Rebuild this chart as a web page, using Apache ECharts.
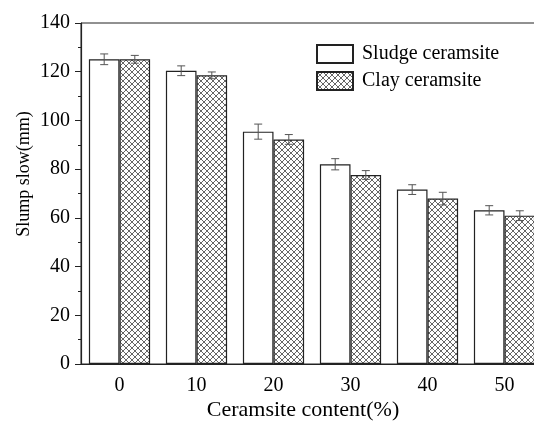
<!DOCTYPE html>
<html>
<head>
<meta charset="utf-8">
<script src="https://cdn.jsdelivr.net/npm/echarts@6/dist/echarts.min.js"></script>
<style>
  html, body { margin: 0; padding: 0; background: #fff; }
  #chart { width: 534px; height: 421px; }
</style>
</head>
<body>
<div id="chart"></div>
<script>
// Ceramsite content (%) on the x axis
const categories = ['0', '10', '20', '30', '40', '50'];
// Slump flow (mm) for each ceramsite type
const sludgeValues = [125.1, 120.4, 95.4, 82.0, 71.6, 63.1];
const clayValues = [125.1, 118.5, 92.2, 77.6, 67.9, 60.9];
// Error bar half-lengths (mm)
const sludgeErrors = [2.2, 2.0, 3.1, 2.3, 2.0, 1.9];
const clayErrors = [1.6, 1.4, 2.0, 1.8, 2.6, 2.0];
const seriesNames = ['Sludge ceramsite', 'Clay ceramsite'];

const FONT = "'Liberation Serif', 'DejaVu Serif', serif";
const BAR_W = 30.6;

// Cross-hatch tile used as the fill for clay ceramsite bars
function hatchTile(size, color) {
  const c = document.createElement('canvas');
  c.width = size; c.height = size;
  const g = c.getContext('2d');
  g.fillStyle = '#fff';
  g.fillRect(0, 0, size, size);
  g.strokeStyle = color;
  g.lineWidth = 0.9;
  g.beginPath();
  for (const k of [-size, 0, size]) {
    g.moveTo(k, 0); g.lineTo(k + size, size);
    g.moveTo(k, size); g.lineTo(k + size, 0);
  }
  g.stroke();
  return c;
}
const hatch = { image: hatchTile(6, '#555'), repeat: 'repeat' };

function errorSeries(values, errors, side) {
  return {
    type: 'custom',
    z: 5,
    silent: true,
    data: values.map((v, i) => [i, v, errors[i]]),
    encode: { x: 0, y: 1 },
    renderItem: function (params, api) {
      const i = api.value(0);
      const v = api.value(1);
      const e = api.value(2);
      const hi = api.coord([i, v + e]);
      const lo = api.coord([i, v - e]);
      const x = hi[0] + side * BAR_W / 2;
      const cap = 4;
      const style = { stroke: '#555', lineWidth: 1, fill: null };
      return {
        type: 'group',
        children: [
          { type: 'line', shape: { x1: x, y1: hi[1], x2: x, y2: lo[1] }, style: style },
          { type: 'line', shape: { x1: x - cap, y1: hi[1], x2: x + cap, y2: hi[1] }, style: style },
          { type: 'line', shape: { x1: x - cap, y1: lo[1], x2: x + cap, y2: lo[1] }, style: style }
        ]
      };
    }
  };
}

const chart = echarts.init(document.getElementById('chart'), null, { renderer: 'canvas' });
chart.setOption({
  animation: false,
  backgroundColor: '#fff',
  textStyle: { fontFamily: FONT, color: '#000' },
  grid: {
    left: 81, top: 23, right: -9, bottom: 57,
    containLabel: false,
    outerBoundsMode: 'none',
    show: true, borderColor: '#222', borderWidth: 1, backgroundColor: 'transparent'
  },
  legend: {
    data: seriesNames,
    orient: 'vertical',
    left: 316, top: 44,
    itemWidth: 36, itemHeight: 18, itemGap: 7,
    padding: 0,
    icon: 'rect',
    textStyle: { fontFamily: FONT, fontSize: 20, color: '#000', padding: [0, 0, 0, 4] }
  },
  xAxis: [
    {
      type: 'category',
      data: categories,
      position: 'bottom',
      name: 'Ceramsite content(%)',
      nameLocation: 'middle',
      nameGap: 35,
      nameMoveOverlap: false,
      nameTextStyle: { fontFamily: FONT, fontSize: 22, color: '#000', padding: [0, 18, 0, 0] },
      axisLine: { lineStyle: { color: '#222', width: 1.2 } },
      axisTick: { alignWithLabel: true, length: 5, lineStyle: { color: '#222' } },
      axisLabel: { fontFamily: FONT, fontSize: 20, color: '#000', margin: 12 },
      splitLine: { show: false }
    },
    {
      type: 'category',
      data: categories,
      position: 'bottom',
      axisLine: { show: false },
      axisTick: { length: 3, lineStyle: { color: '#222' } },
      axisLabel: { show: false },
      splitLine: { show: false }
    }
  ],
  yAxis: {
    type: 'value',
    min: 0, max: 140, interval: 20,
    name: 'Slump slow(mm)',
    nameLocation: 'middle',
    nameGap: 48,
    nameMoveOverlap: false,
    nameTextStyle: { fontFamily: FONT, fontSize: 18, color: '#000', padding: [0, 0, 0, 39] },
    axisLine: { show: true, lineStyle: { color: '#222', width: 1.2 } },
    axisTick: { show: true, length: 6, lineStyle: { color: '#222' } },
    minorTick: { show: true, splitNumber: 2, length: 3, lineStyle: { color: '#222' } },
    axisLabel: { fontFamily: FONT, fontSize: 20, color: '#000', margin: 11 },
    splitLine: { show: false }
  },
  series: [
    {
      name: seriesNames[0],
      type: 'bar',
      barWidth: BAR_W,
      barGap: '0%',
      data: sludgeValues,
      itemStyle: { color: '#fff', borderColor: '#222', borderWidth: 1.2 }
    },
    {
      name: seriesNames[1],
      type: 'bar',
      barWidth: BAR_W,
      barGap: '0%',
      data: clayValues,
      itemStyle: { color: hatch, borderColor: '#222', borderWidth: 1.2 }
    },
    errorSeries(sludgeValues, sludgeErrors, -1),
    errorSeries(clayValues, clayErrors, 1)
  ]
});
</script>
</body>
</html>
